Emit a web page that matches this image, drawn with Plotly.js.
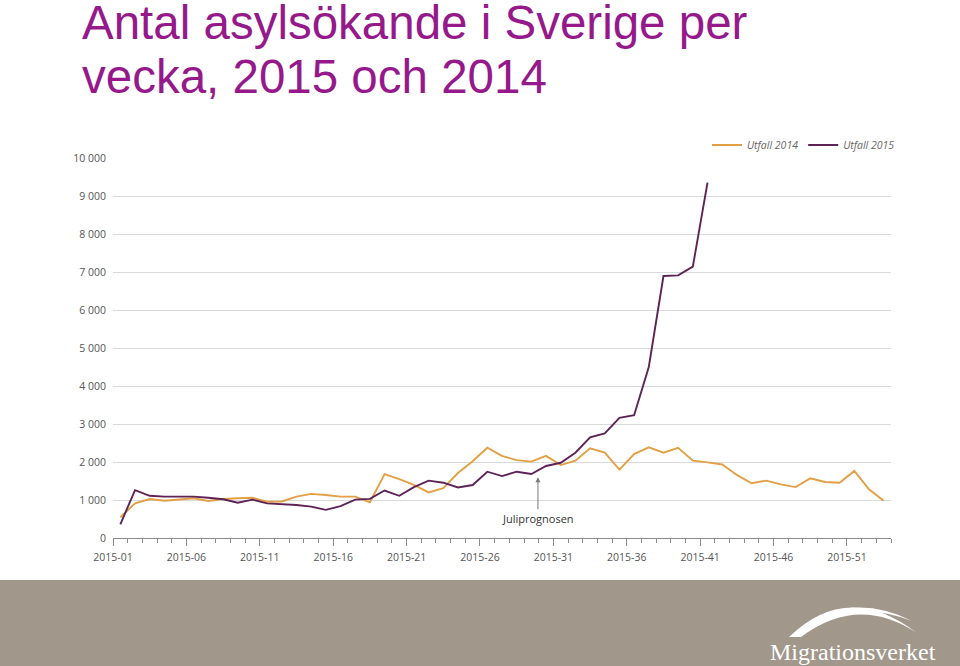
<!DOCTYPE html>
<html>
<head>
<meta charset="utf-8">
<script src="https://cdn.plot.ly/plotly-3.0.1.min.js"></script>
<style>html,body{margin:0;padding:0;background:#fff;}#chart{width:960px;height:666px;}</style>
</head>
<body>
<div id="chart"></div>
<script>
// ---- data ----
const weeks2014 = [1,2,3,4,5,6,7,8,9,10,11,12,13,14,15,16,17,18,19,20,21,22,23,24,25,26,27,28,29,30,31,32,33,34,35,36,37,38,39,40,41,42,43,44,45,46,47,48,49,50,51,52,53];
const utfall2014 = [545,910,1025,980,1015,1045,975,1025,1045,1060,955,960,1090,1160,1130,1090,1090,940,1680,1550,1395,1200,1310,1710,2020,2375,2160,2050,2010,2160,1920,2035,2360,2245,1800,2210,2385,2245,2375,2035,1990,1935,1660,1440,1510,1410,1340,1570,1475,1455,1765,1280,980];
const weeks2015 = [1,2,3,4,5,6,7,8,9,10,11,12,13,14,15,16,17,18,19,20,21,22,23,24,25,26,27,28,29,30,31,32,33,34,35,36,37,38,39,40,41];
const utfall2015 = [360,1260,1110,1090,1090,1090,1060,1020,930,1010,910,895,870,825,740,840,1010,1030,1250,1110,1340,1510,1455,1330,1395,1745,1630,1745,1685,1895,1980,2245,2650,2755,3160,3230,4500,6895,6910,7140,9350];
const tickLabels = ["2015-01","2015-06","2015-11","2015-16","2015-21","2015-26","2015-31","2015-36","2015-41","2015-46","2015-51"];
const tickWeeks = [1,6,11,16,21,26,31,36,41,46,51];
const yTicks = [0,1000,2000,3000,4000,5000,6000,7000,8000,9000,10000];
const seriesNames = ["Utfall 2014","Utfall 2015"];
const titleLines = ["Antal asylsökande i Sverige per","vecka, 2015 och 2014"];
const noteText = "Juliprognosen";
const noteWeek = 29.45, noteValue = 1600;

// ---- layout helpers ----
const W = 960, H = 666, mL = 113, mR = 69, mT = 158, mB = 128;
const pw = W - mL - mR, ph = H - mT - mB;
const px = x => (x - mL) / pw;
const py = y => (H - mB - y) / ph;

const traces = [
  {x: weeks2014, y: utfall2014, name: seriesNames[0], type: 'scatter', mode: 'lines',
   line: {color: '#E2A045', width: 1.9}},
  {x: weeks2015, y: utfall2015, name: seriesNames[1], type: 'scatter', mode: 'lines',
   line: {color: '#5E2356', width: 1.9}}
];

function logoPath(pts) {
  return pts.map(p => px(p[0]).toFixed(4) + ',' + py(p[1]).toFixed(4)).join(' ');
}

const layout = {
  width: W, height: H,
  margin: {l: mL, r: mR, t: mT, b: mB, pad: 0},
  paper_bgcolor: '#ffffff', plot_bgcolor: '#ffffff',
  separators: ', ',
  font: {family: 'Open Sans, Lato, sans-serif', size: 11, color: '#555555'},
  showlegend: true,
  legend: {orientation: 'h', xanchor: 'right', x: px(900), yanchor: 'middle', y: py(145),
           itemwidth: 30, bgcolor: 'rgba(0,0,0,0)',
           font: {family: 'Open Sans, sans-serif', size: 10.5, color: '#666666', style: 'italic'}},
  xaxis: {
    range: [0.5, 53.5], showgrid: false, zeroline: false,
    showline: true, linecolor: '#8c8c8c', linewidth: 1,
    tickmode: 'array', tickvals: tickWeeks.map(w => w - 0.5), ticktext: tickLabels,
    ticks: 'outside', ticklen: 7, tickcolor: '#8c8c8c', tickwidth: 1, ticklabelstandoff: 2,
    minor: {tick0: 0.5, dtick: 1, ticks: 'outside', ticklen: 4, tickcolor: '#8c8c8c', tickwidth: 1, showgrid: false},
    tickfont: {size: 10.5, color: '#555555'}, fixedrange: true
  },
  yaxis: {
    range: [0, 10000], showgrid: true, gridcolor: '#d9d9d9', gridwidth: 1,
    zeroline: false, showline: false, ticks: '',
    tickmode: 'array', tickvals: yTicks, tickformat: ',d', ticklabelstandoff: 6,
    tickfont: {size: 10.5, color: '#555555'}, fixedrange: true
  },
  annotations: [
    {xref: 'paper', yref: 'paper', x: px(80), y: py(22), xanchor: 'left', yanchor: 'middle',
     text: titleLines[0], showarrow: false,
     font: {family: 'Liberation Sans, Arial, sans-serif', size: 47.5, color: '#96198C'}},
    {xref: 'paper', yref: 'paper', x: px(80), y: py(76), xanchor: 'left', yanchor: 'middle',
     text: titleLines[1], showarrow: false,
     font: {family: 'Liberation Sans, Arial, sans-serif', size: 47.5, color: '#96198C'}},
    {x: noteWeek, y: noteValue, xref: 'x', yref: 'y', text: noteText,
     showarrow: true, arrowhead: 2, arrowsize: 1, arrowwidth: 1, arrowcolor: '#7a7a7a',
     ax: 0, ay: 41, standoff: 0,
     font: {family: 'Open Sans, sans-serif', size: 11, color: '#333333'}},
    {xref: 'paper', yref: 'paper', x: px(853), y: py(652), xanchor: 'center', yanchor: 'middle',
     text: 'Migrationsverket', showarrow: false,
     font: {family: 'Liberation Serif, DejaVu Serif, serif', size: 24, color: '#ffffff'}}
  ],
  shapes: [
    {type: 'rect', xref: 'paper', yref: 'paper', x0: px(0), x1: px(W), y0: py(580), y1: py(H),
     fillcolor: '#A1978B', line: {width: 0}, layer: 'below'},
    {type: 'path', xref: 'paper', yref: 'paper', layer: 'above', fillcolor: '#ffffff', line: {width: 0},
     path: 'M ' + logoPath([[789, 637]]) + ' Q ' + logoPath([[848, 580], [917, 633]]) +
           ' Q ' + logoPath([[858, 594], [801, 637]]) + ' Z'},
    {type: 'path', xref: 'paper', yref: 'paper', layer: 'above', fillcolor: '#ffffff', line: {width: 0},
     path: 'M ' + logoPath([[828, 613]]) + ' Q ' + logoPath([[868, 599], [912, 621]]) +
           ' Q ' + logoPath([[870, 605], [832, 616]]) + ' Z'}
  ]
};

Plotly.newPlot('chart', traces, layout, {staticPlot: true, displayModeBar: false});
</script>
</body>
</html>
